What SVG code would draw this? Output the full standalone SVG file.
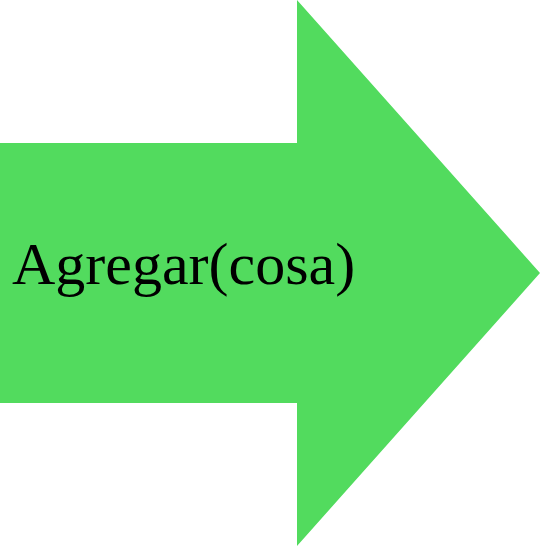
<svg xmlns="http://www.w3.org/2000/svg" width="540" height="546" viewBox="0 0 540 546">
<style>
.lbl{font-family:"Liberation Serif","Times New Roman",serif;font-size:60px;fill:#000}
</style>
<rect width="540" height="546" fill="#fff"/>
<g id="arrow">
<polygon points="0,143 297,143 297,0 540,273 297,546 297,403 0,403" fill="#52DB5E"/>
<text class="lbl" x="12" y="284">Agregar(cosa)</text>
</g>
</svg>
